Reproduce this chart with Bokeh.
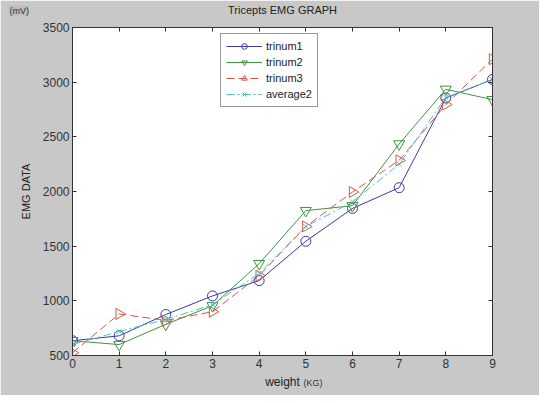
from bokeh.plotting import figure
from bokeh.models import (Range1d, LinearAxis, FixedTicker, Legend, LegendItem, Label)
from bokeh.embed import file_html
from bokeh.resources import INLINE

weights = [0, 1, 2, 3, 4, 5, 6, 7, 8, 9]
trinum1 = [635, 680, 875, 1045, 1185, 1545, 1845, 2035, 2855, 3025]
trinum2 = [635, 600, 785, 955, 1340, 1825, 1870, 2435, 2935, 2840]
trinum3 = [525, 880, 820, 900, 1230, 1680, 1995, 2285, 2795, 3210]
average2 = [600, 720, 830, 965, 1250, 1680, 1905, 2250, 2860, 3025]
x_ticks = [0, 1, 2, 3, 4, 5, 6, 7, 8, 9]
y_ticks = [500, 1000, 1500, 2000, 2500, 3000, 3500]

FONT = "Liberation Sans"
GRAY = "#c8c8c8"

p = figure(width=539, height=395, output_backend="svg", toolbar_location=None,
           x_range=Range1d(0, 9), y_range=Range1d(500, 3500),
           min_border_left=72, min_border_right=47, min_border_top=27, min_border_bottom=40)
p.border_fill_color = GRAY
p.background_fill_color = "white"
p.outline_line_color = "#333333"
p.outline_line_width = 1
p.grid.visible = False

def style_axis(ax, labels=True):
    ax.major_tick_in = 4
    ax.major_tick_out = 0
    ax.minor_tick_in = 0
    ax.minor_tick_out = 0
    ax.axis_line_color = "#333333"
    ax.major_tick_line_color = "#333333"
    ax.major_label_text_font = FONT
    ax.major_label_text_font_size = "12px"
    ax.major_label_text_color = "#333333"
    ax.axis_label_text_font = FONT
    ax.axis_label_text_font_size = "11px"
    ax.axis_label_text_font_style = "normal"
    ax.axis_label_text_color = "#222222"
    if not labels:
        ax.major_label_text_alpha = 0
        ax.major_label_text_font_size = "0px"

p.xaxis.ticker = FixedTicker(ticks=x_ticks)
p.yaxis.ticker = FixedTicker(ticks=y_ticks)
p.xaxis.axis_label = "weight"
p.yaxis.axis_label = "EMG DATA"
style_axis(p.xaxis[0])
style_axis(p.yaxis[0])
p.xaxis.axis_label_text_font_size = "12px"
p.xaxis.major_label_standoff = 3
p.yaxis.major_label_standoff = 3
p.xaxis.axis_label_standoff = 4
p.yaxis.axis_label_standoff = 8

top = LinearAxis(ticker=FixedTicker(ticks=x_ticks))
right = LinearAxis(ticker=FixedTicker(ticks=y_ticks))
style_axis(top, labels=False)
style_axis(right, labels=False)
p.add_layout(top, "above")
p.add_layout(right, "right")

c1, c2, c3, c4 = "#3a3aa8", "#3f943f", "#d05a4a", "#4cc4c4"

l1 = p.line(weights, trinum1, line_color=c1, line_width=1)
m1 = p.scatter(weights, trinum1, marker="circle", size=10, line_color=c1, fill_color=None)
l2 = p.line(weights, trinum2, line_color=c2, line_width=1)
m2 = p.scatter(weights, trinum2, marker="inverted_triangle", size=11, line_color=c2, fill_color=None)
l3 = p.line(weights, trinum3, line_color=c3, line_width=1, line_dash="8 4")
m3 = p.scatter(weights, trinum3, marker="triangle", angle=-1.5708, size=11, line_color=c3, fill_color=None)
l4 = p.line(weights, average2, line_color=c4, line_width=1, line_dash="8 3 2 3")
m4 = p.scatter(weights, average2, marker="x", size=7, line_color=c4)

legend = Legend(items=[
    LegendItem(label="trinum1", renderers=[l1, m1]),
    LegendItem(label="trinum2", renderers=[l2, m2]),
    LegendItem(label="trinum3", renderers=[l3, m3]),
    LegendItem(label="average2", renderers=[l4, m4]),
], location=(148, 248))
legend.label_text_font = FONT
legend.label_text_font_size = "11px"
legend.label_text_color = "#222222"
legend.border_line_color = "#333333"
legend.background_fill_color = "white"
legend.glyph_width = 36
legend.glyph_height = 14
legend.label_height = 14
legend.spacing = 2
legend.padding = 5
legend.margin = 0
legend.label_standoff = 4
p.add_layout(legend, "center")

title = Label(x=210, y=12, x_units="screen", y_units="screen", text="Tricepts EMG GRAPH",
              text_align="center", text_baseline="bottom", text_font=FONT,
              text_font_size="11px", text_color="#222222")
p.add_layout(title, "above")
kg = Label(x=-189, y=-32, x_units="screen", y_units="screen", text="(KG)",
           text_baseline="bottom", text_font=FONT, text_font_size="9px",
           text_color="#333333")
p.add_layout(kg, "right")
mv = Label(x=-502, y=340, x_units="screen", y_units="screen", text="(mV)",
           text_baseline="bottom", text_font=FONT, text_font_size="9px",
           text_color="#333333", background_fill_color="#bdbdbd")
p.add_layout(mv, "right")

open("out.html", "w").write(file_html(p, INLINE))
